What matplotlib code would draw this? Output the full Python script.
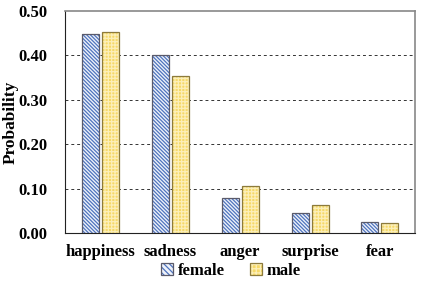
import numpy as np
import matplotlib
matplotlib.use("Agg")
import matplotlib.pyplot as plt
from matplotlib.patches import Patch
from matplotlib.legend_handler import HandlerTuple

plt.rcParams['font.family'] = ['Liberation Serif', 'DejaVu Serif']
plt.rcParams['font.weight'] = 'bold'
plt.rcParams['hatch.linewidth'] = 0.9

emotions = ['happiness', 'sadness', 'anger', 'surprise', 'fear']
female = [0.448, 0.400, 0.079, 0.046, 0.025]
male = [0.453, 0.353, 0.106, 0.064, 0.022]
yticks = [0.0, 0.1, 0.2, 0.3, 0.4, 0.5]

# fill / hatch / outline colours
f_fill, f_hatch, f_edge = '#eef2fa', '#4f74be', '#5a5a6a'
m_fill, m_hatch, m_edge = '#f6d968', '#fcefb8', '#8c7a3c'
f_pat, m_pat = '\\' * 9, '+' * 5

fig = plt.figure(figsize=(4.23, 2.82), dpi=100)
ax = fig.add_axes([0.154, 0.174, 0.827, 0.787])

x = np.arange(len(emotions))
w = 0.243
xf = x - 0.143
xm = x + 0.143

# hatched fill (hatch colour follows edgecolor), then outline on top
ax.bar(xf, female, w, color=f_fill, edgecolor=f_hatch, hatch=f_pat, linewidth=0, zorder=3)
ax.bar(xf, female, w, fill=False, edgecolor=f_edge, linewidth=0.9, zorder=4)
ax.bar(xm, male, w, color=m_fill, edgecolor=m_hatch, hatch=m_pat, linewidth=0, zorder=3)
ax.bar(xm, male, w, fill=False, edgecolor=m_edge, linewidth=0.9, zorder=4)

ax.set_ylim(0, 0.5)
ax.set_xlim(-0.5, 4.5)
ax.set_yticks(yticks)
ax.set_yticklabels(['%.2f' % t for t in yticks], fontsize=12, fontweight='bold')
ax.set_xticks(x)
ax.set_xticklabels(emotions, fontsize=12, fontweight='bold')
ax.tick_params(axis='x', length=0, pad=8)
ax.tick_params(axis='y', length=0, pad=13)
ax.set_ylabel('Probability', fontsize=12.5, fontweight='bold', va='center')
ax.yaxis.set_label_coords(-0.157, 0.5)
for t in [0.1, 0.2, 0.3, 0.4]:
    ax.axhline(t, color='#333333', linestyle=(0, (3, 3)), linewidth=0.7, zorder=1)
for s in ['left', 'bottom']:
    ax.spines[s].set_color('#222222')
for s in ['top', 'right']:
    ax.spines[s].set_color('#888888')
    ax.spines[s].set_linewidth(1.2)

hf = (Patch(facecolor=f_fill, edgecolor=f_hatch, hatch='\\' * 6, linewidth=0),
      Patch(fill=False, edgecolor=f_edge, linewidth=0.9))
hm = (Patch(facecolor=m_fill, edgecolor=m_hatch, hatch='+' * 4, linewidth=0),
      Patch(fill=False, edgecolor=m_edge, linewidth=0.9))
ax.legend([hf, hm], ['female', 'male'], handler_map={tuple: HandlerTuple(ndivide=1)},
          loc='center', bbox_to_anchor=(0.474, -0.172), ncol=2, frameon=False,
          fontsize=12, handlelength=0.7, handleheight=0.7, columnspacing=1.5,
          handletextpad=0.3, borderpad=0)

fig.savefig('out.png', dpi=100)
